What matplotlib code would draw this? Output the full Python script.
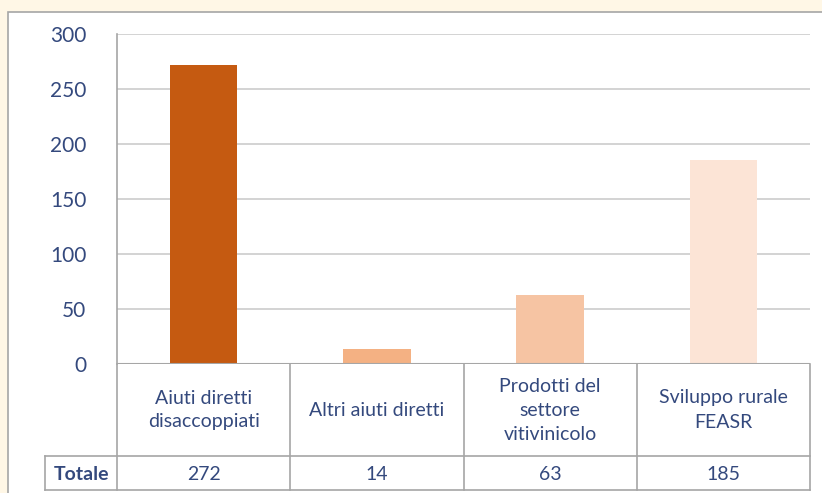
import matplotlib.pyplot as plt
from matplotlib.patches import Rectangle

# Dati
categorie = ["Aiuti diretti\ndisaccoppiati", "Altri aiuti diretti",
             "Prodotti del\nsettore\nvitivinicolo", "Sviluppo rurale\nFEASR"]
totali = [272, 14, 63, 185]
colori = ["#C55A11", "#F4B183", "#F6C4A3", "#FCE4D6"]
yticks = [0, 50, 100, 150, 200, 250, 300]

testo = "#34497D"
griglia = "#D0D0D0"
bordo = "#A6A6A6"

W, H = 822, 493
fig = plt.figure(figsize=(W / 100, H / 100), dpi=100, facecolor="#FFF7E6")
plt.rcParams['font.family'] = ['Lato', 'DejaVu Sans']

# pannello bianco di sfondo
bg = fig.add_axes([0, 0, 1, 1])
bg.set_xlim(0, W)
bg.set_ylim(H, 0)
bg.axis("off")
bg.add_patch(Rectangle((8, 12), W, H, facecolor="white", edgecolor=bordo, lw=1.2))

# area del grafico
x0, x1, y0, y1 = 117, 810, 34, 364
ax = fig.add_axes([x0 / W, 1 - y1 / H, (x1 - x0) / W, (y1 - y0) / H])
ax.set_facecolor("none")
x = range(len(totali))
ax.bar(x, totali, width=0.39, color=colori, zorder=3)
ax.set_xlim(-0.5, len(totali) - 0.5)
ax.set_ylim(0, 300)
ax.set_yticks(yticks)
ax.tick_params(axis="y", length=0, pad=22, labelsize=15, labelcolor=testo)
ax.set_xticks([])
ax.grid(axis="y", color=griglia, lw=1.3, zorder=0)
for s in ["top", "right", "bottom"]:
    ax.spines[s].set_visible(False)
ax.spines["left"].set_color(bordo)
ax.spines["left"].set_linewidth(1.2)
ax.axhline(0, color=bordo, lw=1.5, zorder=4)

# tabella sotto il grafico
row1, row2 = 456, 490
left_lab = 45
cw = (x1 - x0) / len(totali)
lc = dict(color=bordo, lw=1.2)
bg.plot([x0, x0], [y1, row2], **lc)
bg.plot([left_lab, x1], [row1, row1], **lc)
bg.plot([left_lab, x1], [row2, row2], **lc)
bg.plot([left_lab, left_lab], [row1, row2], **lc)
for i in range(1, len(totali) + 1):
    bg.plot([x0 + i * cw, x0 + i * cw], [y1, row2], **lc)

fs = 14
bg.text((left_lab + x0) / 2, (row1 + row2) / 2 + 1, "Totale", color=testo,
        fontsize=fs, fontweight="bold", ha="center", va="center")
for i, (c, v) in enumerate(zip(categorie, totali)):
    cx = x0 + (i + 0.5) * cw
    bg.text(cx, (y1 + row1) / 2, c, color=testo, fontsize=fs,
            ha="center", va="center", linespacing=1.5)
    bg.text(cx, (row1 + row2) / 2 + 1, str(v), color=testo, fontsize=fs,
            ha="center", va="center")

fig.savefig("out.png", dpi=100, facecolor=fig.get_facecolor())
